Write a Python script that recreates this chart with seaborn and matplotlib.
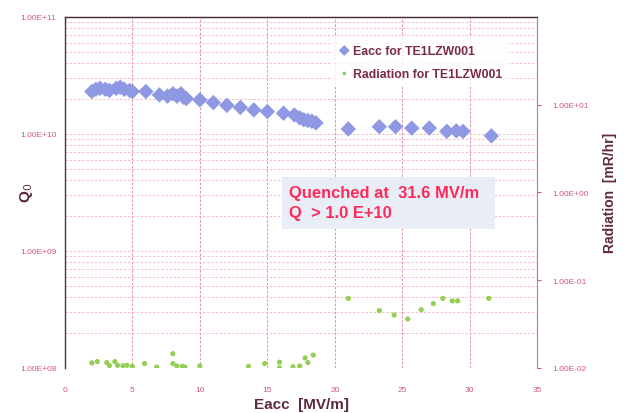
import matplotlib
matplotlib.use("Agg")
import matplotlib.pyplot as plt
import matplotlib.ticker as mticker
from matplotlib.patches import Rectangle
import seaborn as sns
import pandas as pd
import numpy as np

# Q0 vs Eacc
eacc_q = [2.0, 2.3, 2.6, 3.0, 3.3, 3.8, 4.1, 4.4, 4.8, 5.0, 6.0, 7.0, 7.6, 8.0, 8.3,
          8.6, 8.8, 9.0, 10.0, 11.0, 12.0, 13.0, 14.0, 15.0, 16.2, 17.0, 17.4, 17.7,
          18.0, 18.3, 18.6, 21.0, 23.3, 24.5, 25.7, 27.0, 28.3, 29.0, 29.5, 31.6]
q0 = [2.3e10, 2.4e10, 2.45e10, 2.4e10, 2.35e10, 2.45e10, 2.5e10, 2.4e10, 2.35e10,
      2.3e10, 2.3e10, 2.15e10, 2.1e10, 2.2e10, 2.1e10, 2.2e10, 2.05e10, 2.0e10,
      1.95e10, 1.85e10, 1.75e10, 1.68e10, 1.6e10, 1.55e10, 1.5e10, 1.45e10,
      1.37e10, 1.32e10, 1.3e10, 1.28e10, 1.24e10, 1.1e10, 1.15e10, 1.15e10,
      1.12e10, 1.12e10, 1.05e10, 1.06e10, 1.05e10, 0.96e10]

# Radiation vs Eacc
eacc_r = [2.0, 2.4, 3.1, 3.3, 3.7, 3.9, 4.3, 4.6, 5.0, 5.9, 6.8, 8.0, 8.0, 8.3,
          8.7, 8.9, 10.0, 13.6, 14.8, 15.9, 15.9, 16.9, 17.4, 17.8, 18.0, 18.4,
          21.0, 23.3, 24.4, 25.4, 26.4, 27.3, 28.0, 28.7, 29.1, 31.4]
rad = [0.0114, 0.0118, 0.0115, 0.0106, 0.0118, 0.0107, 0.0106, 0.0107, 0.0104,
       0.0112, 0.0102, 0.0145, 0.0112, 0.0105, 0.0104, 0.0102, 0.0105, 0.0104,
       0.0112, 0.0116, 0.0100, 0.0103, 0.0105, 0.0130, 0.0115, 0.0140,
       0.062, 0.045, 0.040, 0.036, 0.046, 0.054, 0.062, 0.058, 0.058, 0.062]

x_ticks = [0, 5, 10, 15, 20, 25, 30, 35]

df_q = pd.DataFrame({"Eacc": eacc_q, "Q0": q0})
df_r = pd.DataFrame({"Eacc": eacc_r, "Rad": rad})

sns.set_style("white")
plt.rcParams["font.family"] = ["Liberation Sans", "DejaVu Sans"]

fig = plt.figure(figsize=(6.24, 4.14), dpi=100)
ax = fig.add_axes([0.104, 0.109, 0.757, 0.848])
ax2 = ax.twinx()

blue = "#8f98e3"
green = "#93cf55"
pink = "#e07a9a"
label_col = "#5c2a3e"

sns.scatterplot(data=df_q, x="Eacc", y="Q0", ax=ax, marker="D", s=62, color=blue,
                edgecolor="none", label="Eacc for TE1LZW001", legend=False, zorder=3)
sns.scatterplot(data=df_r, x="Eacc", y="Rad", ax=ax2, marker="o", s=14, color=green,
                edgecolor="none", label="Radiation for TE1LZW001", legend=False, zorder=3)

ax.set_yscale("log")
ax2.set_yscale("log")
ax.set_xlim(0, 35)
ax.set_ylim(1e8, 1e11)
ax2.set_ylim(1e-2, 1e2)
ax.set_xticks(x_ticks)
ax.set_xticklabels([str(t) for t in x_ticks])

sci = mticker.FuncFormatter(lambda v, p: ("%.2E" % v))
ax.yaxis.set_major_locator(mticker.LogLocator(base=10, numticks=10))
ax.yaxis.set_major_formatter(sci)
ax.yaxis.set_minor_locator(mticker.LogLocator(base=10, subs=np.arange(2, 10), numticks=20))
ax.yaxis.set_minor_formatter(mticker.NullFormatter())
ax2.yaxis.set_major_locator(mticker.FixedLocator([1e-2, 1e-1, 1e0, 1e1]))
ax2.yaxis.set_major_formatter(sci)
ax2.yaxis.set_minor_locator(mticker.NullLocator())

ax.grid(True, which="major", axis="x", color=pink, linestyle=(0, (3, 2)), linewidth=0.6)
ax.grid(True, which="both", axis="y", color="#f3b4c6", linestyle=(0, (3, 2)), linewidth=0.6)
ax.set_axisbelow(True)

tick_col = "#d0587c"
ax.tick_params(axis="y", which="both", labelsize=6, colors=tick_col, length=0, pad=6)
ax.tick_params(axis="x", which="both", labelsize=6, colors=tick_col, length=0, pad=13)
ax2.tick_params(axis="y", which="both", labelsize=6, colors=tick_col, length=3, pad=8)

for s in ["left", "top"]:
    ax.spines[s].set_color("#4a3040")
    ax.spines[s].set_linewidth(1.0)
ax.spines["bottom"].set_visible(False)
ax.spines["right"].set_color("#c87aa8")
ax2.spines["bottom"].set_visible(False)
ax2.spines["right"].set_color("#c87aa8")
ax2.spines["right"].set_linewidth(0.8)
ax2.spines["left"].set_visible(False)
ax2.spines["top"].set_color("#4a3040")

ax.set_xlabel("Eacc  [MV/m]", fontsize=11, fontweight="bold", color=label_col, labelpad=3)
ax.set_ylabel("Q$_0$", fontsize=11, fontweight="bold", color=label_col)
ax.yaxis.set_label_coords(-0.064, 0.5)
ax2.set_ylabel("Radiation  [mR/hr]", fontsize=10, fontweight="bold", color=label_col, labelpad=10)

h1, l1 = ax.get_legend_handles_labels()
h2, l2 = ax2.get_legend_handles_labels()
leg = ax2.legend(h1 + h2, l1 + l2, loc="upper left", bbox_to_anchor=(0.55, 0.959),
                 frameon=True, fontsize=8.8, handletextpad=0.2, markerscale=0.7,
                 labelspacing=0.9, borderpad=0.6, handlelength=1.0)
leg.get_frame().set_facecolor("white")
leg.get_frame().set_edgecolor("none")
for t in leg.get_texts():
    t.set_color("#7a2a48")
    t.set_fontweight("bold")

ax2.add_patch(Rectangle((0.46, 0.396), 0.451, 0.148, transform=ax2.transAxes,
                        facecolor="#e8edf6", edgecolor="none", zorder=4))
ax2.text(0.4746, 0.47, "Quenched at  31.6 MV/m\nQ  > 1.0 E+10", transform=ax2.transAxes,
         fontsize=11.9, fontweight="bold", color="#ff2a5a", va="center", ha="left",
         linespacing=1.4, zorder=5)

fig.savefig("out.png", dpi=100)
